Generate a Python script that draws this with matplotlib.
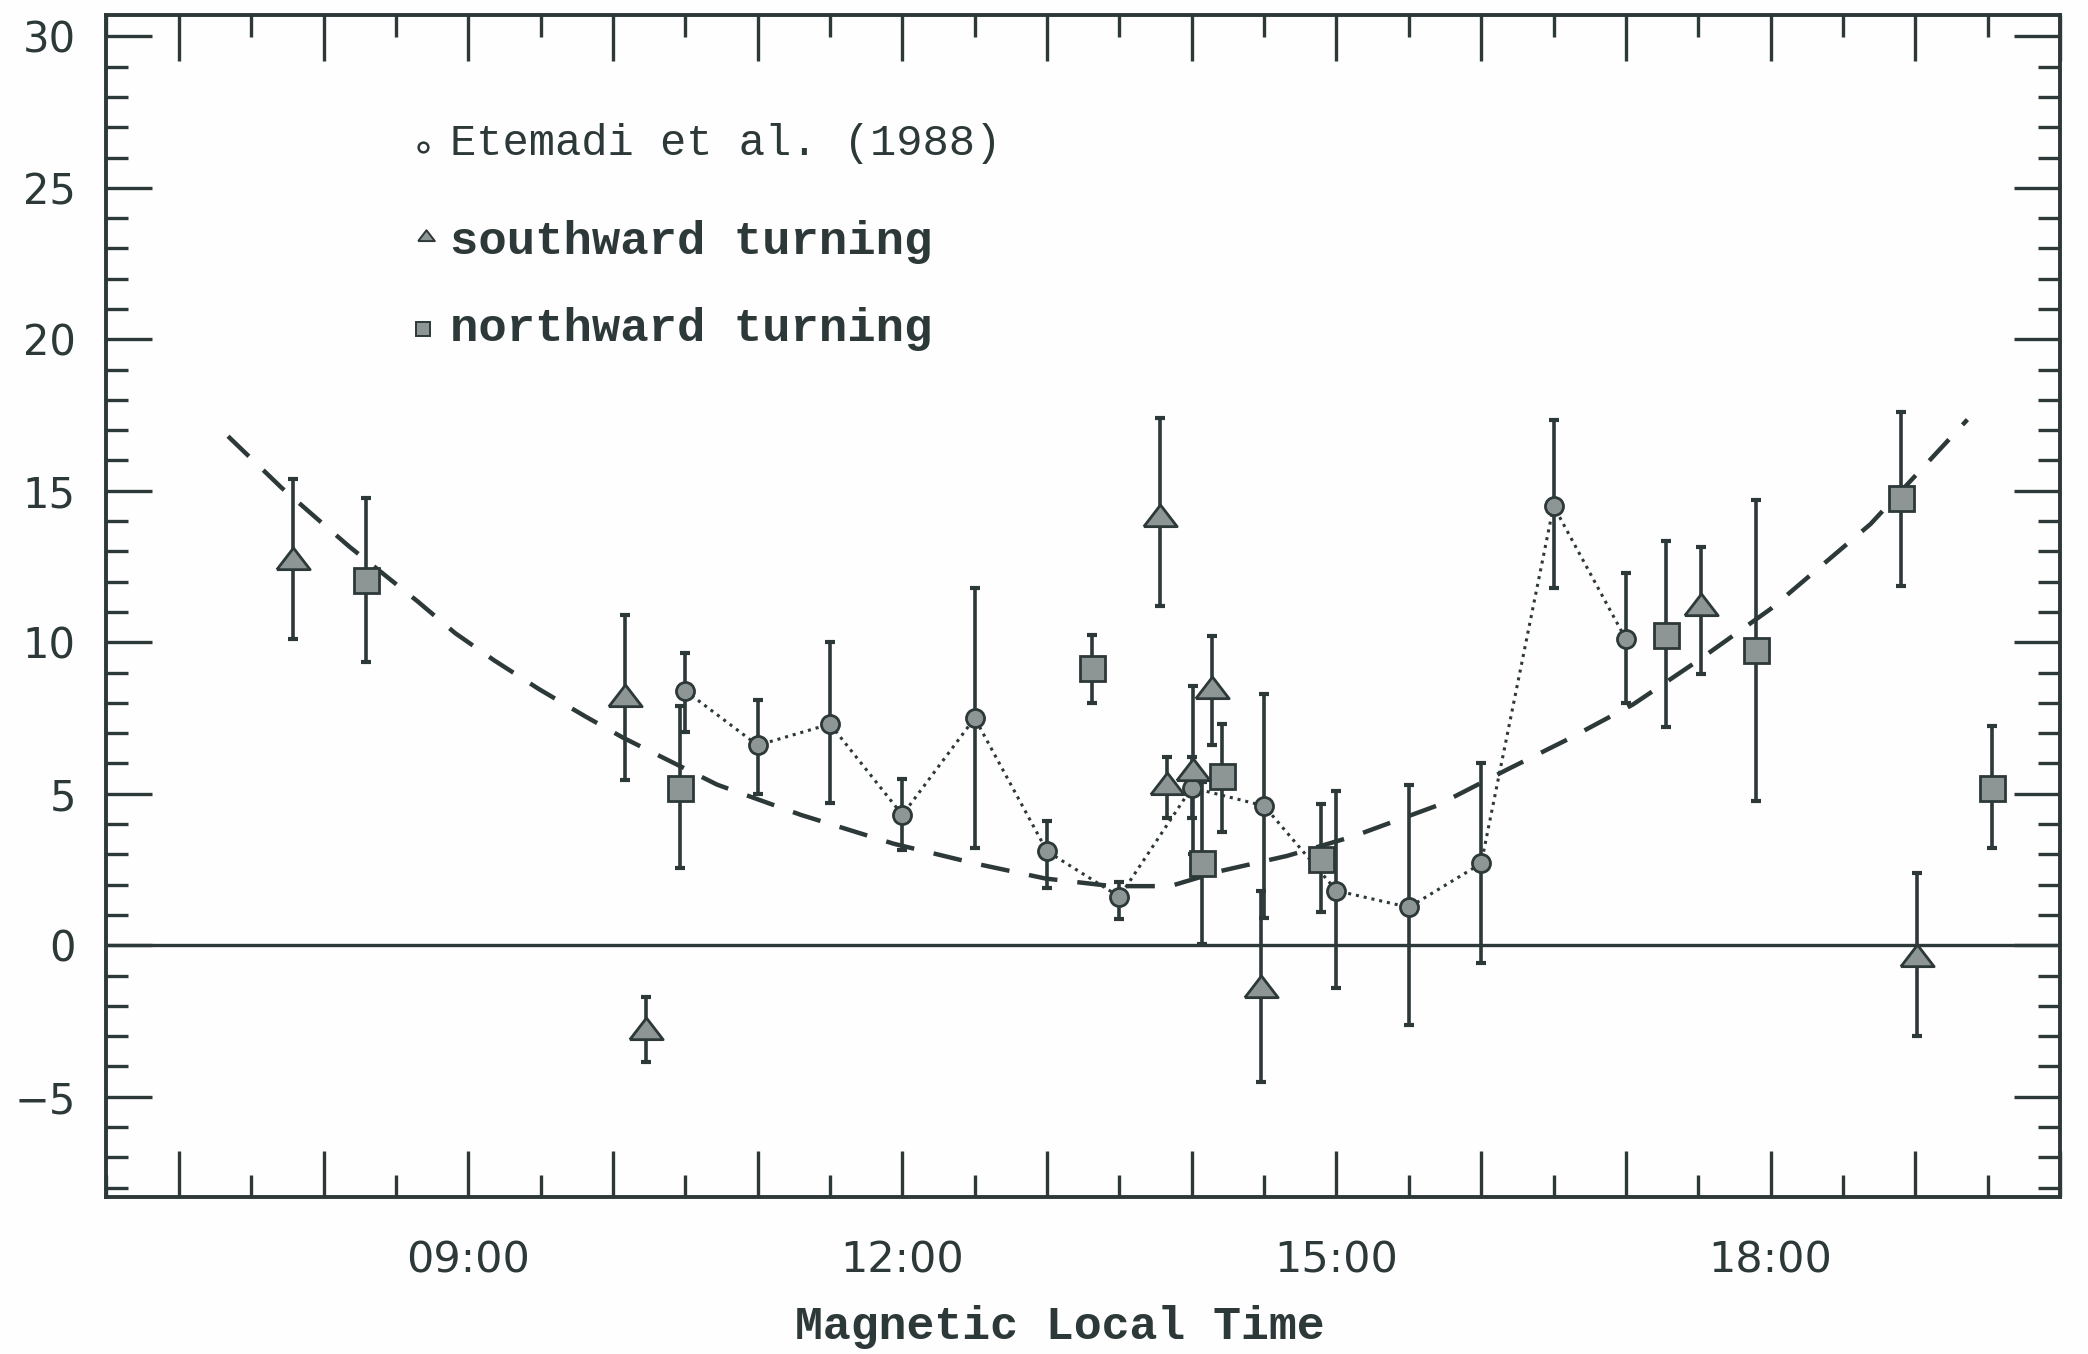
import matplotlib
matplotlib.use("Agg")
import matplotlib.pyplot as plt
import numpy as np

# -------------------------------------------------------------------------------
# Data (Magnetic Local Time in decimal hours)
# -------------------------------------------------------------------------------

# Etemadi et al. (1988): half-hour bins, joined by a dotted line
etemadi_mlt = [10.5, 11.0, 11.5, 12.0, 12.5, 13.0, 13.5, 14.0, 14.5, 15.0, 15.5, 16.0, 16.5, 17.0]
etemadi_val = [8.4, 6.6, 7.3, 4.3, 7.5, 3.1, 1.6, 5.2, 4.6, 1.8, 1.25, 2.7, 14.5, 10.1]
etemadi_hi = [9.65, 8.1, 10.0, 5.5, 11.8, 4.1, 2.1, 6.2, 8.3, 5.1, 5.3, 6.0, 17.35, 12.3]
etemadi_lo = [7.05, 5.0, 4.7, 3.15, 3.2, 1.9, 0.85, 4.2, 0.9, -1.4, -2.65, -0.6, 11.8, 8.0]

# southward turning (triangles)
south_mlt = [7.79, 10.08, 10.23, 13.78, 13.83, 14.01, 14.14, 14.48, 17.52, 19.01]
south_val = [12.7, 8.2, -2.8, 14.15, 5.3, 5.75, 8.45, -1.4, 11.2, -0.4]
south_hi = [15.4, 10.9, -1.7, 17.4, 6.2, 8.55, 10.2, 1.8, 13.15, 2.4]
south_lo = [10.1, 5.45, -3.85, 11.2, 4.2, 3.0, 6.6, -4.5, 8.95, -3.0]

# northward turning (squares)
north_mlt = [8.29, 10.46, 13.31, 14.07, 14.21, 14.89, 17.28, 17.9, 18.9, 19.53]
north_val = [12.05, 5.2, 9.15, 2.7, 5.6, 2.85, 10.25, 9.75, 14.75, 5.2]
north_hi = [14.75, 7.9, 10.25, 5.4, 7.3, 4.65, 13.35, 14.7, 17.6, 7.25]
north_lo = [9.35, 2.55, 8.0, 0.05, 3.75, 1.1, 7.2, 4.75, 11.85, 3.2]

# dashed fit curve, sampled along the drawn line
fit_mlt = [7.34, 7.71, 7.95, 8.18, 8.65, 8.91, 9.18, 9.49, 9.81, 10.07, 10.72, 11.3,
           11.94, 12.5, 12.99, 13.45, 13.85, 14.2, 14.66, 15.12, 15.69, 16.18, 16.6,
           17.05, 17.5, 18.0, 18.69, 19.36]
fit_val = [16.8, 15.1, 14.1, 13.15, 11.35, 10.3, 9.4, 8.45, 7.55, 6.85, 5.3, 4.3,
           3.35, 2.7, 2.2, 1.95, 1.95, 2.45, 2.95, 3.6, 4.6, 5.8, 6.8,
           7.95, 9.4, 11.1, 13.9, 17.35]

# axis ticks and labels
hour_ticks = [7, 8, 9, 10, 11, 12, 13, 14, 15, 16, 17, 18, 19, 20]
hour_labels = ['', '', '09:00', '', '', '12:00', '', '', '15:00', '', '', '18:00', '', '']
value_ticks = [-5, 0, 5, 10, 15, 20, 25, 30]
value_labels = ['\u22125', '0', '5', '10', '15', '20', '25', '30']

# -------------------------------------------------------------------------------
# Style
# -------------------------------------------------------------------------------

INK = '#2d3838'
FILL = '#8e9595'
BG = '#fefefe'
MONO = 'Liberation Mono'

fig = plt.figure(figsize=(20.88, 13.54), dpi=100, facecolor=BG)
ax = fig.add_axes([0.051, 0.1162, 0.9356, 0.8726], facecolor=BG)

ax.set_xlim(6.5, 20.0)
ax.set_ylim(-8.3, 30.7)

for s in ax.spines.values():
    s.set_linewidth(2.8)
    s.set_color(INK)

ax.set_xticks(hour_ticks)
ax.set_xticklabels(hour_labels, fontsize=31, family='DejaVu Sans', color=INK)
ax.set_xticks(np.arange(6.5, 20.01, 1.0), minor=True)
ax.set_yticks(value_ticks)
ax.set_yticklabels(value_labels, fontsize=30, family='DejaVu Sans', color=INK)
ax.set_yticks(np.arange(-8, 30.5, 1.0), minor=True)

ax.tick_params(which='both', direction='in', top=True, right=True, color=INK, width=2.4)
ax.tick_params(which='major', length=33)
ax.tick_params(which='minor', length=16)
ax.tick_params(axis='x', which='major', pad=31)
ax.tick_params(axis='y', which='major', pad=22)

# zero line
ax.axhline(0, color=INK, lw=2.4, zorder=1)

# -------------------------------------------------------------------------------
# Curves
# -------------------------------------------------------------------------------

ax.plot(fit_mlt, fit_val, color=INK, lw=3.2, dashes=(6.5, 4.5), zorder=2)
ax.plot(etemadi_mlt, etemadi_val, color=INK, lw=2.2, linestyle=(0, (1, 1.6)), zorder=2)

def draw_points(x, val, lo, hi, marker, ms):
    val = np.array(val)
    yerr = [val - np.array(lo), np.array(hi) - val]
    ax.errorbar(x, val, yerr=yerr, fmt='none', ecolor=INK, elinewidth=2.6,
                capsize=3.5, capthick=3, zorder=3)
    ax.plot(x, val, linestyle='none', marker=marker, ms=ms, mfc=FILL, mec=INK,
            mew=2.0, zorder=4)

tri = [(-1, -0.55), (1, -0.55), (0, 0.75), (-1, -0.55)]
draw_points(etemadi_mlt, etemadi_val, etemadi_lo, etemadi_hi, 'o', 13)
draw_points(north_mlt, north_val, north_lo, north_hi, 's', 18)
draw_points(south_mlt, south_val, south_lo, south_hi, tri, 24)

# -------------------------------------------------------------------------------
# Legend (drawn by hand, as in the original)
# -------------------------------------------------------------------------------

ax.plot([0.162], [0.888], transform=ax.transAxes, marker='o', ms=7, mfc='white',
        mec=INK, mew=1.8, linestyle='none', clip_on=False)
ax.plot([0.1636], [0.813], transform=ax.transAxes, marker=tri, ms=12, mfc=FILL,
        mec=INK, mew=1.4, linestyle='none', clip_on=False)
ax.plot([0.162], [0.7344], transform=ax.transAxes, marker='s', ms=10, mfc=FILL,
        mec=INK, mew=1.4, linestyle='none', clip_on=False)

ax.text(0.1758, 0.891, 'Etemadi et al. (1988)', transform=ax.transAxes, fontsize=31.5,
        family=MONO, color=INK, va='center', ha='left')
ax.text(0.1758, 0.8077, 'southward turning', transform=ax.transAxes, fontsize=34,
        family=MONO, weight='bold', color=INK, va='center', ha='left')
ax.text(0.1758, 0.7344, 'northward turning', transform=ax.transAxes, fontsize=34,
        family=MONO, weight='bold', color=INK, va='center', ha='left')

fig.text(0.5077, 0.02, 'Magnetic Local Time', fontsize=33.5, family=MONO,
         weight='bold', color=INK, ha='center', va='center')

fig.savefig('out.png', dpi=100, facecolor=BG)
